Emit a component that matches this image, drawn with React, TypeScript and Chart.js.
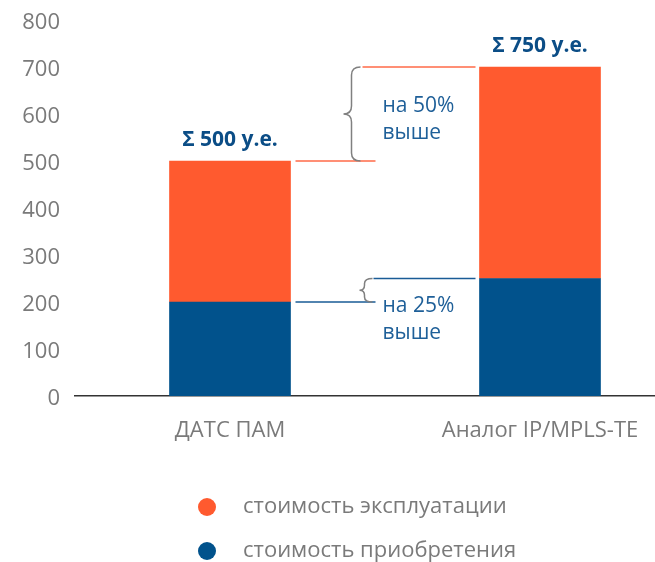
import React, { useEffect, useRef } from 'react';
import { Chart, registerables } from 'chart.js';

Chart.register(...registerables);

const categories = ['ДАТС ПАМ', 'Аналог IP/MPLS-TE'];
const acquisitionCost = [200, 250];
const operatingCost = [300, 450];
const totalLabels = ['Σ 500 у.е.', 'Σ 750 у.е.'];
const seriesNames = ['стоимость приобретения', 'стоимость эксплуатации'];
const diffTexts = [['на 50%', 'выше'], ['на 25%', 'выше']];
const yMin = 0;
const yMax = 800;
const yStep = 100;

const ORANGE = '#ff5a2f';
const BLUE = '#01528c';
const TEXT_BLUE = '#1e5f98';
const GRAY = '#7a7a7a';
const FONT = '"Open Sans", "Noto Sans", sans-serif';

function drawBrace(ctx: CanvasRenderingContext2D, tipX: number, stemX: number, endX: number, yTop: number, yBot: number, r: number) {
  const ymid = (yTop + yBot) / 2;
  ctx.beginPath();
  ctx.moveTo(endX, yTop);
  ctx.quadraticCurveTo(stemX, yTop, stemX, yTop + r);
  ctx.lineTo(stemX, ymid - r);
  ctx.quadraticCurveTo(stemX, ymid, tipX, ymid);
  ctx.quadraticCurveTo(stemX, ymid, stemX, ymid + r);
  ctx.lineTo(stemX, yBot - r);
  ctx.quadraticCurveTo(stemX, yBot, endX, yBot);
  ctx.stroke();
}

const annotations = {
  id: 'annotations',
  afterDraw(chart: any) {
    const ctx: CanvasRenderingContext2D = chart.ctx;
    const y = chart.scales.y;
    const meta0 = chart.getDatasetMeta(0);
    const meta1 = chart.getDatasetMeta(1);
    const tops = categories.map((_, i) => acquisitionCost[i] + operatingCost[i]);
    ctx.save();

    // totals above bars
    ctx.font = `bold 21px ${FONT}`;
    ctx.fillStyle = '#0b4d86';
    ctx.textAlign = 'center';
    ctx.textBaseline = 'middle';
    categories.forEach((_, i) => {
      const bar = meta1.data[i];
      ctx.fillText(totalLabels[i], bar.x, y.getPixelForValue(tops[i]) - 21);
    });

    const b0 = meta0.data[0];
    const b1 = meta0.data[1];
    const right0 = b0.x + b0.width / 2;
    const left1 = b1.x - b1.width / 2;

    // total comparison lines
    const yT0 = y.getPixelForValue(tops[0]);
    const yT1 = y.getPixelForValue(tops[1]);
    ctx.lineWidth = 1.5;
    ctx.strokeStyle = '#ff6b48';
    ctx.beginPath();
    ctx.moveTo(right0 + 5, yT0); ctx.lineTo(right0 + 85, yT0);
    ctx.moveTo(right0 + 72, yT1); ctx.lineTo(left1 - 4, yT1);
    ctx.stroke();

    // acquisition comparison lines
    const yA0 = y.getPixelForValue(acquisitionCost[0]);
    const yA1 = y.getPixelForValue(acquisitionCost[1]);
    ctx.strokeStyle = '#1a5c96';
    ctx.beginPath();
    ctx.moveTo(right0 + 5, yA0); ctx.lineTo(right0 + 85, yA0);
    ctx.moveTo(right0 + 83, yA1); ctx.lineTo(left1 - 4, yA1);
    ctx.stroke();

    // braces
    ctx.strokeStyle = '#808080';
    ctx.lineWidth = 1.5;
    drawBrace(ctx, right0 + 53, right0 + 61, right0 + 70, yT1, yT0, 8);
    drawBrace(ctx, right0 + 69, right0 + 74, right0 + 82, yA1, yA0, 5);

    // diff texts
    ctx.font = `21px ${FONT}`;
    ctx.fillStyle = TEXT_BLUE;
    ctx.textAlign = 'left';
    ctx.textBaseline = 'middle';
    const tx = right0 + 92;
    ctx.fillText(diffTexts[0][0], tx, 106);
    ctx.fillText(diffTexts[0][1], tx, 133);
    ctx.fillText(diffTexts[1][0], tx, 306);
    ctx.fillText(diffTexts[1][1], tx, 333);

    // legend
    const legendItems = [
      { label: seriesNames[1], color: ORANGE, y: 507 },
      { label: seriesNames[0], color: BLUE, y: 551 },
    ];
    ctx.font = `22px ${FONT}`;
    legendItems.forEach((it) => {
      ctx.fillStyle = it.color;
      ctx.beginPath();
      ctx.arc(207, it.y, 9, 0, Math.PI * 2);
      ctx.fill();
      ctx.fillStyle = GRAY;
      ctx.fillText(it.label, 243, it.y);
    });
    ctx.restore();
  },
};

export default function App() {
  const ref = useRef<HTMLCanvasElement>(null);
  useEffect(() => {
    if (!ref.current) return;
    const chart = new Chart(ref.current, {
      type: 'bar',
      data: {
        labels: categories,
        datasets: [
          { label: seriesNames[0], data: acquisitionCost, backgroundColor: BLUE, barThickness: 121 },
          { label: seriesNames[1], data: operatingCost, backgroundColor: ORANGE, barThickness: 121 },
        ],
      },
      options: {
        responsive: false,
        animation: false,
        devicePixelRatio: 1,
        layout: { padding: { top: 20, right: 5, left: 0, bottom: 0 } },
        plugins: { legend: { display: false }, tooltip: { enabled: false } },
        scales: {
          x: {
            stacked: true,
            grid: { display: false, drawTicks: false },
            border: { display: true, color: '#333333', width: 1.5 },
            ticks: { color: GRAY, font: { family: FONT, size: 22 }, padding: 22 },
            afterFit(scale: any) { scale.height = 166; },
          },
          y: {
            stacked: true,
            min: yMin,
            max: yMax,
            grid: { display: false, drawTicks: false },
            border: { display: false },
            ticks: { stepSize: yStep, color: GRAY, font: { family: FONT, size: 22 }, padding: 15, labelOffset: 3 },
            afterFit(scale: any) { scale.width = 75; scale.paddingTop = 0; scale.paddingBottom = 0; },
          },
        },
      },
      plugins: [annotations],
    });
    return () => chart.destroy();
  }, []);
  return (
    <div style={{ position: 'fixed', left: 0, top: 0, width: 655, height: 562, overflow: 'hidden', background: '#fff' }}>
      <canvas ref={ref} width={700} height={562} style={{ width: 700, height: 562, display: 'block' }} />
    </div>
  );
}
